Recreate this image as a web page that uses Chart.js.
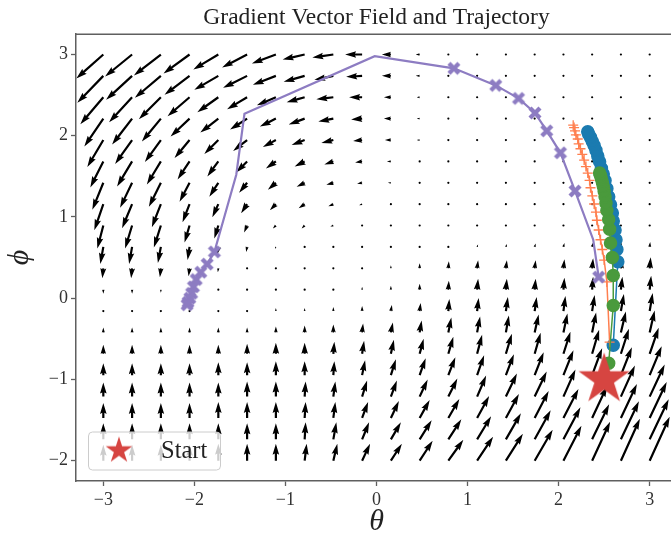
<!DOCTYPE html>
<html lang="en">
<head>
    <meta charset="UTF-8">
    <title>Gradient Vector Field and Trajectory</title>
    <script src="https://cdn.jsdelivr.net/npm/chart.js"></script>
    <style>
        html, body { margin: 0; padding: 0; background: #fff; overflow: hidden; }
        canvas { display: block; }
    </style>
</head>
<body>
    <canvas id="fieldChart" width="690" height="537"></canvas>
    <script>
        const TITLE = 'Gradient Vector Field and Trajectory';
        const X_TICKS = [-3, -2, -1, 0, 1, 2, 3];
        const Y_TICKS = [-2, -1, 0, 1, 2, 3];

        // quiver grid (theta columns, phi rows)
        const THETA_GRID = [-3, -2.684, -2.368, -2.053, -1.737, -1.421, -1.105, -0.789, -0.474, -0.158,
                            0.158, 0.474, 0.789, 1.105, 1.421, 1.737, 2.053, 2.368, 2.684, 3];
        const PHI_GRID = [-2, -1.737, -1.474, -1.211, -0.947, -0.684, -0.421, -0.158, 0.105, 0.368,
                          0.632, 0.895, 1.158, 1.421, 1.684, 1.947, 2.211, 2.474, 2.737, 3];

        // field components, one row per phi value (bottom row first)
        const FIELD_U = [
            [0,0,0,0,0,0,0,2,4,8,11,13,15,16,17,18,18,18,19,20],
            [0,0,0,0,0,0,0,1,3,7,10,12,13,14,15,16,17,17,18,19],
            [0,0,0,0,0,0,0,1,2,6,8,10,11,12,13,14,15,15,16,17],
            [0,0,0,0,0,0,0,1,2,5,6,8,9,9,11,12,12,13,14,15],
            [0,0,0,0,0,0,0,0,1,3,5,6,7,7,8,9,10,10,11,12],
            [0,0,0,0,0,0,0,0,1,2,3,4,5,5,6,6,7,7,8,9],
            [0,0,0,0,0,0,0,0,0,1,2,2,3,3,3,4,4,4,5,5],
            [0,0,0,0,0,0,0,0,0,0,1,1,1,1.5,2,2,2,2.5,3,3],
            [0,0,0,0,0,0,0,0,0,0,0,0,0.5,1,1,1,1,1,1.5,1.5],
            [-1,-1,-1,-1,-0.5,0,0,0,0,0,0,0,0.5,1,1,1,1,1,1,1],
            [-3,-3,-3,-2,-2,-1,-1,-1,-1,0,0,0.5,0.5,1,1,1,1,1,0.5,0.5],
            [-6,-7,-7,-5,-4,-3,-3,-3,-3,-2,-1,0,0.5,1,1,1,0.8,0.5,0.3,0.2],
            [-9,-10,-9,-7,-6,-6,-6,-6,-5,-3,-2,-1,0,0.5,0.5,0.5,0.3,0.2,0,0],
            [-11,-12,-12,-10,-9,-8,-8,-8,-7,-5,-3,-2,-0.5,0,0,0,0,0,0,0],
            [-13,-15,-14,-12,-11,-11,-10,-10,-9,-7,-4,-2,-0.5,0,0,0,0,0,0,0],
            [-16,-17,-16,-15,-14,-14,-13,-13,-12,-9,-6,-3,-0.5,0,0,0,0,0,0,0],
            [-19,-20,-19,-19,-18,-17,-16,-16,-15,-11,-7,-3,-1,0,0,0,0,0,0,0],
            [-23,-23,-22,-22,-21,-20,-19,-18,-17,-13,-7,-3,-1,0,0,0,0,0,0,0],
            [-26,-26,-26,-25,-24,-24,-23,-21,-19,-16,-9,-4,-1,0,0,0,0,0,0,0],
            [-27,-27,-27,-26,-25,-25,-24,-22,-21,-17,-9,-4,-1,0,0,0,0,0,0,0]
        ];
        const FIELD_V = [
            [16,16,16,16,17,17,17,17,17,17,17,20,21,24,27,31,35,39,42,44],
            [16,16,16,16,16,16,16,17,17,17,17,19,20,23,26,29,32,35,38,40],
            [15,15,15,15,16,16,16,16,16,16,17,18,19,22,24,27,29,32,34,36],
            [14,14,14,14,14,15,15,15,15,16,16,17,18,21,23,25,27,29,31,32],
            [12,12,12,12,13,13,14,14,14,15,16,17,18,20,21,23,25,27,28,29],
            [9,9,9,9,9,10,11,11,12,13,14,15,17,19,20,21,22,24,25,26],
            [5,5,5,5,5,5,6,7,8,9,10,12,15,16,17,18,19,20,21,22],
            [0,0,0,1,2,2,3,3,4,5,6,8,12,13,14,14,15,16,17,18],
            [-4,-4,-3,-2,-1,0,0.5,1,2,3,4,6,9,11,11,11,12,13,13,14],
            [-10,-10,-9,-8,-4,-2,0,0.5,1,2,3,5,7,8,8,8,9,10,10,11],
            [-17,-17,-16,-13,-9,-5,-2,-1,0,0,0.5,1,2,2.5,3,3.5,4,4.5,4.5,5],
            [-23,-23,-22,-17,-13,-7,-3,-3,-1,-0.5,0,0.5,0.5,0.5,0.5,0.5,1,1,1,1],
            [-26,-24,-23,-18,-13,-9,-6,-4,-2,-1,0,0,0,0,0,0,0,0,0,0],
            [-27,-25,-24,-19,-14,-10,-7,-4,-2,-1,0,0,0,0,0,0,0,0,0,0],
            [-26,-25,-23,-18,-15,-11,-7,-5,-3,-1,0,0,0,0,0,0,0,0,0,0],
            [-27,-24,-22,-18,-14,-11,-7,-5,-3,-1,0,0,0,0,0,0,0,0,0,0],
            [-28,-26,-23,-18,-14,-11,-8,-6,-3,-1,0,0,0,0,0,0,0,0,0,0],
            [-27,-25,-22,-19,-15,-12,-8,-5,-2,0,0,0,0,0,0,0,0,0,0,0],
            [-27,-24,-22,-19,-14,-12,-9,-6,-4,-1,0,0,0,0,0,0,0,0,0,0],
            [-24,-22,-21,-19,-15,-13,-9,-5,-3,0,0,0,0,0,0,0,0,0,0,0]
        ];

        // trajectories [theta, phi]
        const START_POINT = [2.5, -1];
        const BLUE_PATH = [[2.60,-0.58],[2.65,0.45],[2.64,0.60],[2.63,0.72],[2.62,0.84],[2.60,0.95],[2.59,1.05],
            [2.57,1.15],[2.55,1.25],[2.53,1.35],[2.51,1.45],[2.49,1.53],[2.47,1.60],[2.45,1.68],[2.43,1.75],
            [2.41,1.82],[2.39,1.88],[2.37,1.93],[2.35,1.98],[2.33,2.02],[2.32,2.05]];
        const ORANGE_PATH = [[2.56,-0.54],[2.53,0.20],[2.50,0.47],[2.48,0.60],[2.46,0.72],[2.44,0.84],[2.42,0.96],
            [2.41,1.06],[2.39,1.16],[2.37,1.26],[2.35,1.36],[2.34,1.45],[2.32,1.54],[2.30,1.62],[2.28,1.70],
            [2.26,1.77],[2.24,1.84],[2.22,1.90],[2.21,1.96],[2.19,2.01],[2.18,2.06],[2.17,2.10],[2.16,2.13]];
        const GREEN_PATH = [[2.55,-0.80],[2.60,-0.09],[2.60,0.28],[2.59,0.50],[2.57,0.68],[2.56,0.85],[2.55,0.97],
            [2.53,1.08],[2.52,1.17],[2.51,1.25],[2.50,1.32],[2.49,1.38],[2.48,1.43],[2.47,1.47],[2.46,1.51],[2.45,1.54]];
        const PURPLE_PATH = [[2.44,0.26],[2.38,0.72],[2.18,1.32],[2.02,1.79],[1.87,2.06],[1.74,2.28],[1.56,2.46],
            [1.31,2.62],[0.85,2.83],[-0.02,2.98],[-1.45,2.27],[-1.54,1.52],[-1.78,0.57],[-1.86,0.42],[-1.93,0.32],
            [-1.98,0.23],[-2.01,0.14],[-2.03,0.06],[-2.05,0.00],[-2.07,-0.05],[-2.08,-0.08]];
        const PURPLE_UNMARKED = [1, 9, 10, 11];

        const SERIF = '"Liberation Serif", "Times New Roman", serif';
        const SPINE = '#5f5f5f';

        function starCanvas(R, color) {
            const c = document.createElement('canvas');
            const s = Math.ceil(2 * R + 4);
            c.width = s; c.height = s;
            const g = c.getContext('2d');
            g.translate(s / 2, s / 2);
            g.beginPath();
            for (let k = 0; k < 10; k++) {
                const r = k % 2 ? R * 0.382 : R;
                const a = -Math.PI / 2 + k * Math.PI / 5;
                g.lineTo(r * Math.cos(a), r * Math.sin(a));
            }
            g.closePath();
            g.fillStyle = color;
            g.fill();
            return c;
        }

        function xCanvas(size, color) {
            const c = document.createElement('canvas');
            const s = Math.ceil(size + 4);
            c.width = s; c.height = s;
            const g = c.getContext('2d');
            const h = size / 2 - 1;
            g.translate(s / 2, s / 2);
            g.strokeStyle = color;
            g.lineWidth = size * 0.36;
            g.beginPath();
            g.moveTo(-h, -h); g.lineTo(h, h);
            g.moveTo(h, -h); g.lineTo(-h, h);
            g.stroke();
            return c;
        }

        // matplotlib-like quiver arrow, tail at (x0, y0), pixel vector (dx, dy)
        function drawArrow(ctx, x0, y0, dx, dy) {
            const w = 2.2, headLen = 5 * w, headAxis = 4.5 * w, headW = 3 * w;
            const L = Math.hypot(dx, dy);
            if (L < w) {
                ctx.beginPath();
                ctx.arc(x0, y0, 1.1, 0, Math.PI * 2);
                ctx.fill();
                return;
            }
            const s = L < headLen ? L / headLen : 1;
            const hl = headLen * s, ha = headAxis * s, hw = headW * s / 2, sw = w * s / 2;
            ctx.save();
            ctx.translate(x0, y0);
            ctx.rotate(Math.atan2(dy, dx));
            ctx.beginPath();
            ctx.moveTo(0, -sw);
            ctx.lineTo(L - ha, -sw);
            ctx.lineTo(L - hl, -hw);
            ctx.lineTo(L, 0);
            ctx.lineTo(L - hl, hw);
            ctx.lineTo(L - ha, sw);
            ctx.lineTo(0, sw);
            ctx.closePath();
            ctx.fill();
            ctx.restore();
        }

        const quiverPlugin = {
            id: 'quiver',
            beforeDatasetsDraw(chart) {
                const {ctx, chartArea: a, scales: {x, y}} = chart;
                ctx.save();
                ctx.beginPath();
                ctx.rect(a.left, a.top, a.right - a.left, a.bottom - a.top);
                ctx.clip();
                ctx.fillStyle = '#000';
                PHI_GRID.forEach((phi, j) => {
                    THETA_GRID.forEach((theta, i) => {
                        drawArrow(ctx, x.getPixelForValue(theta), y.getPixelForValue(phi),
                                  FIELD_U[j][i], -FIELD_V[j][i]);
                    });
                });
                ctx.restore();
            }
        };

        const framePlugin = {
            id: 'topSpine',
            afterDraw(chart) {
                const {ctx, chartArea: a} = chart;
                ctx.save();
                ctx.strokeStyle = SPINE;
                ctx.lineWidth = 1.5;
                ctx.beginPath();
                ctx.moveTo(a.left - 0.75, a.top);
                ctx.lineTo(a.right, a.top);
                ctx.stroke();
                ctx.restore();
            }
        };

        const legendStar = starCanvas(14, '#d64541');
        const boxLegend = {
            id: 'boxLegend',
            afterDraw(chart) {
                const {ctx, chartArea: a} = chart;
                const ds = chart.data.datasets.find(d => d.inLegend);
                const bw = 132, bh = 38;
                const bx = a.left + 12, by = a.bottom - 11.5 - bh;
                ctx.save();
                ctx.beginPath();
                ctx.roundRect(bx + 0.5, by + 0.5, bw, bh, 4);
                ctx.fillStyle = 'rgba(255,255,255,0.8)';
                ctx.fill();
                ctx.strokeStyle = '#cccccc';
                ctx.lineWidth = 1;
                ctx.stroke();
                ctx.drawImage(legendStar, bx + 31 - legendStar.width / 2, by + bh / 2 - legendStar.height / 2);
                ctx.fillStyle = '#222';
                ctx.font = '24.5px ' + SERIF;
                ctx.textBaseline = 'middle';
                ctx.fillText(ds.label, bx + 73, by + bh / 2 + 1);
                ctx.restore();
            }
        };

        const toXY = p => ({x: p[0], y: p[1]});
        const fmt = v => (v < 0 ? '\u2212' + Math.abs(v) : String(v));

        const axisCommon = {
            type: 'linear',
            grid: { drawOnChartArea: false, drawTicks: true, tickLength: 5, tickColor: SPINE, tickWidth: 1.3 },
            border: { display: true, color: SPINE, width: 1.5 },
            ticks: { font: { family: SERIF, size: 18 }, color: '#333', padding: 3, callback: v => fmt(v) }
        };

        new Chart(document.getElementById('fieldChart'), {
            type: 'scatter',
            data: {
                datasets: [
                    {
                        label: 'Start', inLegend: true,
                        data: [toXY(START_POINT)],
                        pointStyle: starCanvas(27, '#d64541'), pointRadius: 10, showLine: false
                    },
                    {
                        label: 'purple', data: PURPLE_PATH.map(toXY), showLine: true,
                        borderColor: '#8d7cc2', borderWidth: 2.2,
                        pointStyle: xCanvas(12, '#8d7cc2'),
                        pointRadius: c => (PURPLE_UNMARKED.includes(c.dataIndex) ? 0 : 6)
                    },
                    {
                        label: 'green', data: GREEN_PATH.map(toXY), showLine: true,
                        borderColor: '#4a9a3c', borderWidth: 1.5,
                        pointBackgroundColor: '#4a9a3c', pointBorderColor: '#4a9a3c', pointRadius: 6
                    },
                    {
                        label: 'orange', data: ORANGE_PATH.map(toXY), showLine: true,
                        borderColor: '#ff7f4f', borderWidth: 1.5,
                        pointStyle: 'cross', pointRadius: 5, pointBorderColor: '#ff7f4f', pointBorderWidth: 1.3
                    },
                    {
                        label: 'blue', data: BLUE_PATH.map(toXY), showLine: true,
                        borderColor: '#1b7bb0', borderWidth: 1.5,
                        pointBackgroundColor: '#1b7bb0', pointBorderColor: '#1b7bb0', pointRadius: 6
                    }
                ]
            },
            options: {
                responsive: false,
                animation: false,
                layout: { padding: { right: 13 } },
                plugins: {
                    legend: { display: false },
                    tooltip: { enabled: false },
                    title: {
                        display: true, text: TITLE, fullSize: false, color: '#222',
                        font: { family: SERIF, size: 23.5, weight: 'normal' },
                        padding: { top: 4, bottom: 2 }
                    }
                },
                scales: {
                    x: Object.assign({}, axisCommon, {
                        min: -3.3, max: 3.3,
                        afterBuildTicks: s => { s.ticks = X_TICKS.map(v => ({value: v})); },
                        afterFit: s => { s.height = 56; },
                        title: { display: true, text: '\u03B8', color: '#222',
                                 font: { family: SERIF, size: 30, style: 'italic', lineHeight: 1 },
                                 padding: { top: 0, bottom: 0 } }
                    }),
                    y: Object.assign({}, axisCommon, {
                        min: -2.25, max: 3.25,
                        afterBuildTicks: s => { s.ticks = Y_TICKS.map(v => ({value: v})); },
                        afterFit: s => { s.width = 76; },
                        title: { display: true, text: '\u03D5', color: '#222',
                                 font: { family: SERIF, size: 30, style: 'italic', lineHeight: 1 },
                                 padding: { top: 5, bottom: 0 } }
                    })
                }
            },
            plugins: [quiverPlugin, framePlugin, boxLegend]
        });
    </script>
</body>
</html>
